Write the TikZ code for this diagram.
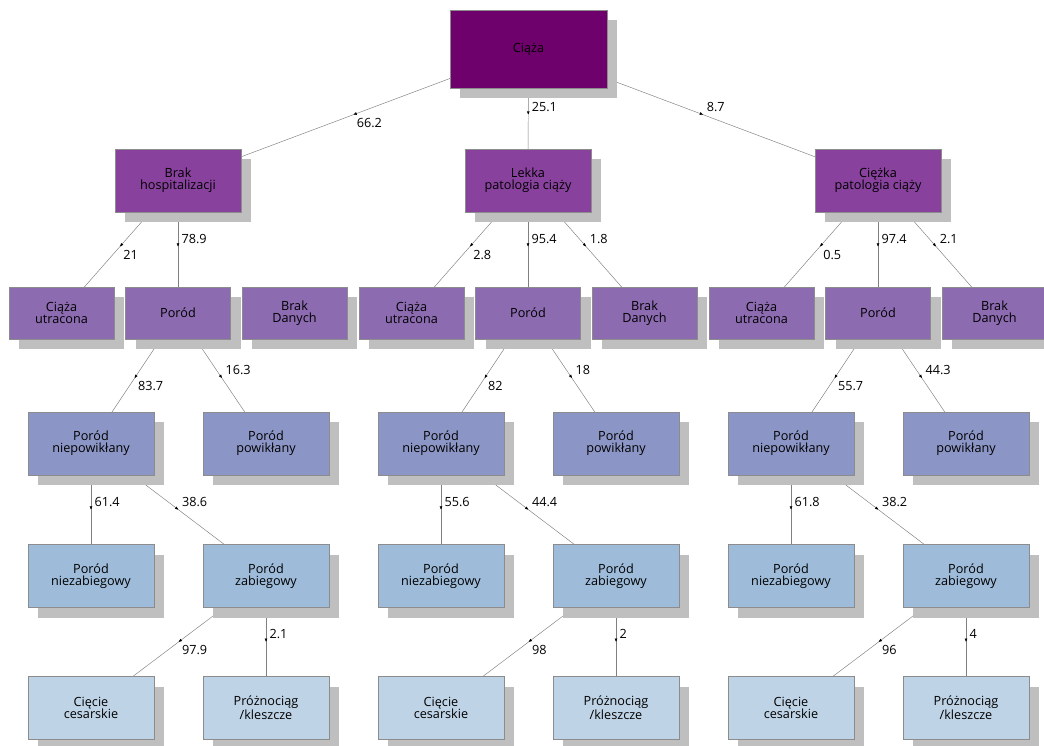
\documentclass[tikz,border=0pt]{standalone}
\usepackage{fontspec}
\setmainfont{Open Sans}
\usetikzlibrary{shadows,arrows.meta,decorations.markings,backgrounds}

\definecolor{bupuA}{HTML}{6E016B}
\definecolor{bupuB}{HTML}{88419D}
\definecolor{bupuC}{HTML}{8C6BB1}
\definecolor{bupuD}{HTML}{8C96C6}
\definecolor{bupuE}{HTML}{9EBCDA}
\definecolor{bupuF}{HTML}{BFD3E6}

\tikzset{
  box/.style={rectangle, draw=black!45, line width=0.3pt, align=center, text=black,
    font=\fontsize{9.5}{9.2}\selectfont, inner sep=0pt,
    general shadow={fill=black!25, shadow xshift=7.5pt, shadow yshift=-7.5pt}},
  big/.style={box, minimum width=94.5pt, minimum height=47.25pt},
  small/.style={box, minimum width=78.75pt, minimum height=39pt},
  link/.style={draw=black!50, line width=0.35pt, postaction={decorate},
    decoration={markings, mark=at position 0.5 with {\arrow[black]{Latex[length=2.6pt,width=2.2pt]}}}},
  ar/.style={anchor=south west, inner sep=2.5pt, font=\fontsize{9.5}{11}\selectfont, text=black},
  br/.style={ar, anchor=north west},
}

\begin{document}
\begin{tikzpicture}[x=0.75pt, y=-0.75pt]
  \useasboundingbox (0,0) rectangle (1044,745);

  % top and first level
  \node[box, fill=bupuA, minimum width=117.75pt, minimum height=58.5pt] (top) at (528.5,49) {Ciąża};
  \node[big, fill=bupuB] (h1) at (178,180.5) {Brak\\hospitalizacji};
  \node[big, fill=bupuB] (h2) at (528,180.5) {Lekka\\patologia ciąży};
  \node[big, fill=bupuB] (h3) at (878,180.5) {Ciężka\\patologia ciąży};

  % the three columns below
  \foreach \i/\x in {1/178, 2/528, 3/878} {
    \node[small, fill=bupuC] (lost\i) at (\x-116.5,313) {Ciąża\\utracona};
    \node[small, fill=bupuC] (birth\i) at (\x,313) {Poród};
    \node[small, fill=bupuC] (nodata\i) at (\x+116.5,313) {Brak\\Danych};
    \node[big, fill=bupuD] (easy\i) at (\x-87,443.5) {Poród\\niepowikłany};
    \node[big, fill=bupuD] (hard\i) at (\x+88,443.5) {Poród\\powikłany};
    \node[big, fill=bupuE] (nat\i) at (\x-87,576) {Poród\\niezabiegowy};
    \node[big, fill=bupuE] (op\i) at (\x+88,576) {Poród\\zabiegowy};
    \node[big, fill=bupuF] (cs\i) at (\x-87,708) {Cięcie\\cesarskie};
    \node[big, fill=bupuF] (vac\i) at (\x+88,708) {Próżnociąg\\/kleszcze};
  }

  \begin{scope}[on background layer]
    \draw[link] (top.center) -- node[br]{66.2} (h1.center);
    \draw[link] (top.center) -- node[ar]{25.1} (h2.center);
    \draw[link] (top.center) -- node[ar]{8.7} (h3.center);

    \draw[link] (h1.center) -- node[br]{21} (lost1.center);
    \draw[link] (h1.center) -- node[ar]{78.9} (birth1.center);
    \draw[link] (h2.center) -- node[br]{2.8} (lost2.center);
    \draw[link] (h2.center) -- node[ar]{95.4} (birth2.center);
    \draw[link] (h2.center) -- node[ar]{1.8} (nodata2.center);
    \draw[link] (h3.center) -- node[br]{0.5} (lost3.center);
    \draw[link] (h3.center) -- node[ar]{97.4} (birth3.center);
    \draw[link] (h3.center) -- node[ar]{2.1} (nodata3.center);

    \foreach \i/\a/\b/\c/\d/\e/\f in {1/83.7/16.3/61.4/38.6/97.9/2.1,
                                      2/82/18/55.6/44.4/98/2,
                                      3/55.7/44.3/61.8/38.2/96/4} {
      \draw[link] (birth\i.center) -- node[br]{\a} (easy\i.center);
      \draw[link] (birth\i.center) -- node[ar]{\b} (hard\i.center);
      \draw[link] (easy\i.center) -- node[ar]{\c} (nat\i.center);
      \draw[link] (easy\i.center) -- node[ar]{\d} (op\i.center);
      \draw[link] (op\i.center) -- node[br]{\e} (cs\i.center);
      \draw[link] (op\i.center) -- node[ar]{\f} (vac\i.center);
    }
  \end{scope}
\end{tikzpicture}
\end{document}
